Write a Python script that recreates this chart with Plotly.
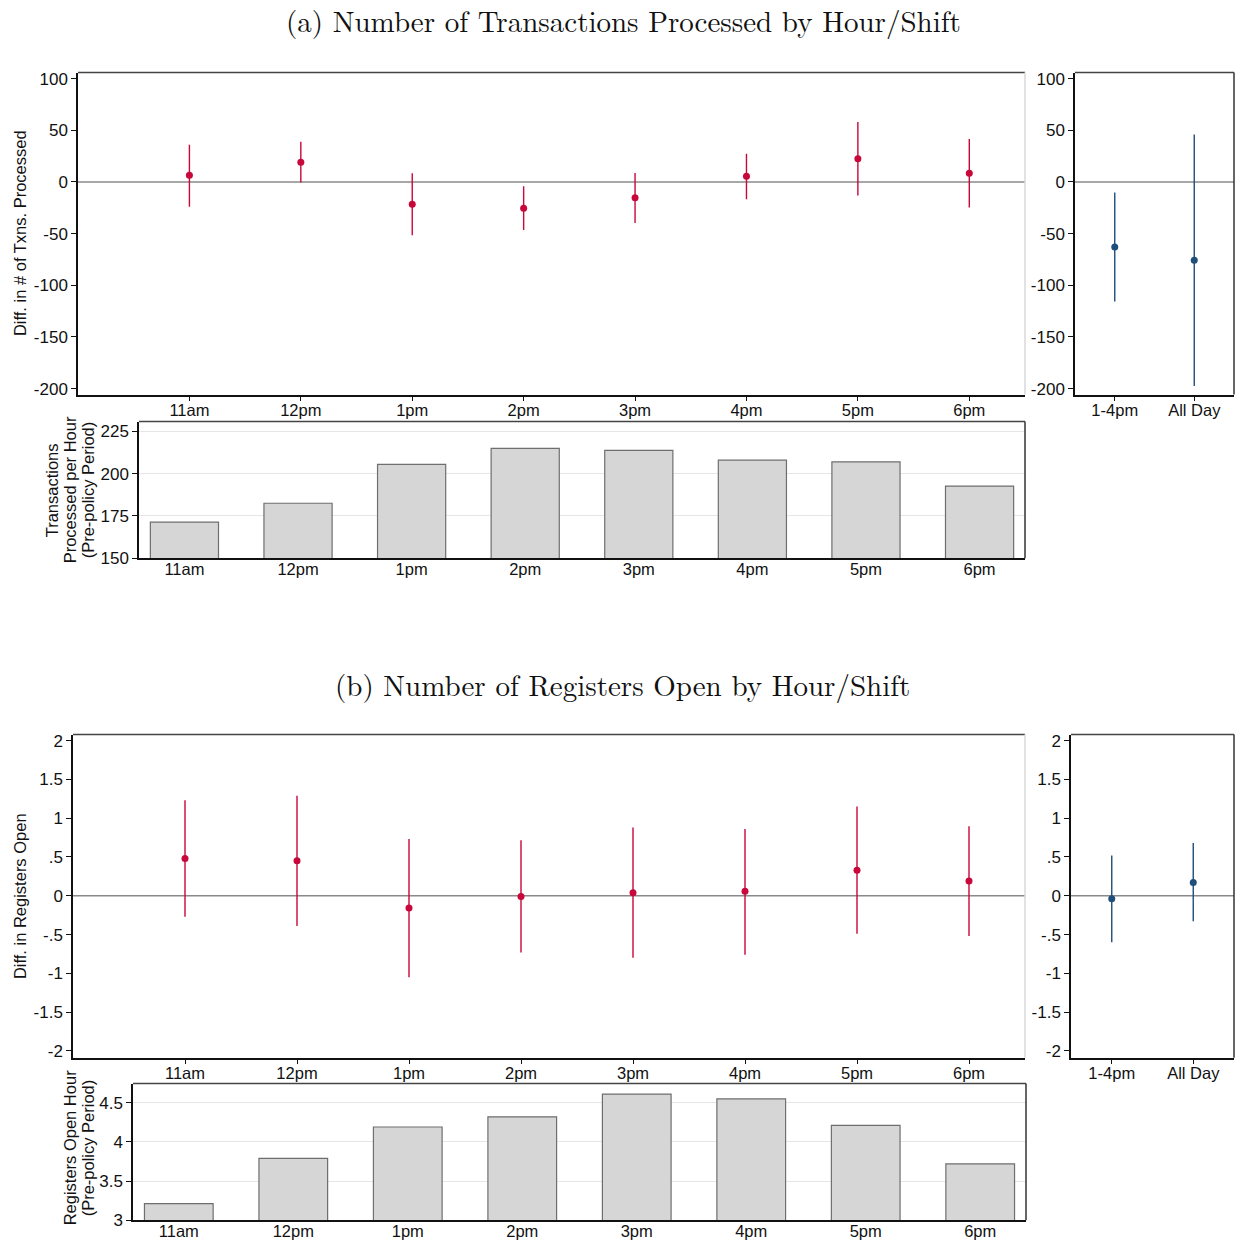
import plotly.graph_objects as go

W, H = 1236, 1241

# ---------------- data ----------------
hours = ["11am", "12pm", "1pm", "2pm", "3pm", "4pm", "5pm", "6pm"]
shifts = ["1-4pm", "All Day"]

# Panel (a): difference in # of transactions processed
txn_est = [6.5, 19, -21.5, -25.4, -15.4, 5.5, 22.5, 8.4]
txn_hi = [36, 39, 8.5, -4.2, 8.7, 27.3, 57.9, 41.5]
txn_lo = [-24, -0.5, -51.5, -46.6, -39.8, -16.7, -13.2, -24.8]
txn_shift_est = [-63, -75.9]
txn_shift_hi = [-10.3, 46]
txn_shift_lo = [-115.7, -197.4]
txn_pre = [171.3, 182.5, 205.5, 215, 213.8, 208, 207, 192.7]

# Panel (b): difference in registers open
reg_est = [0.48, 0.45, -0.158, -0.01, 0.04, 0.057, 0.33, 0.19]
reg_hi = [1.23, 1.29, 0.73, 0.716, 0.88, 0.86, 1.15, 0.896]
reg_lo = [-0.27, -0.39, -1.05, -0.73, -0.80, -0.76, -0.49, -0.52]
reg_shift_est = [-0.04, 0.17]
reg_shift_hi = [0.52, 0.68]
reg_shift_lo = [-0.60, -0.33]
reg_pre = [3.21, 3.79, 4.19, 4.32, 4.61, 4.55, 4.21, 3.72]

txn_ticks = [100, 50, 0, -50, -100, -150, -200]
txn_ticktext = ["100", "50", "0", "-50", "-100", "-150", "-200"]
reg_ticks = [2, 1.5, 1, 0.5, 0, -0.5, -1, -1.5, -2]
reg_ticktext = ["2", "1.5", "1", ".5", "0", "-.5", "-1", "-1.5", "-2"]
txn_bar_ticks = [150, 175, 200, 225]
reg_bar_ticks = [3, 3.5, 4, 4.5]
reg_bar_ticktext = ["3", "3.5", "4", "4.5"]

RED = "#c8073a"
BLUE = "#1f4e79"
FONT = "Liberation Sans, Arial, sans-serif"


def ycorr(p):
    # compensate the slight vertical compression observed in rendering
    return (p - 1.2) / 0.9925


def px_x(a, b):
    return [a / W, b / W]


def px_y(top, bottom):
    return [1 - ycorr(bottom) / H, 1 - ycorr(top) / H]


def py(p):
    return 1 - ycorr(p) / H


fig = go.Figure()


def add_ci(xvals, est, hi, lo, color, xa, ya):
    fig.add_trace(go.Scatter(
        x=xvals, y=est, mode="markers",
        marker=dict(color=color, size=7),
        error_y=dict(type="data", symmetric=False,
                     array=[h - e for h, e in zip(hi, est)],
                     arrayminus=[e - l for e, l in zip(est, lo)],
                     color=color, thickness=1.4, width=0),
        xaxis=xa, yaxis=ya, showlegend=False, cliponaxis=False))


pos = list(range(1, len(hours) + 1))
spos = list(range(1, len(shifts) + 1))

add_ci(pos, txn_est, txn_hi, txn_lo, RED, "x", "y")
add_ci(spos, txn_shift_est, txn_shift_hi, txn_shift_lo, BLUE, "x2", "y2")
fig.add_trace(go.Bar(x=hours, y=txn_pre, marker=dict(color="#d6d6d6", line=dict(color="#6e6e6e", width=1.2)),
                     xaxis="x3", yaxis="y3", showlegend=False))
add_ci(pos, reg_est, reg_hi, reg_lo, RED, "x4", "y4")
add_ci(spos, reg_shift_est, reg_shift_hi, reg_shift_lo, BLUE, "x5", "y5")
fig.add_trace(go.Bar(x=hours, y=reg_pre, marker=dict(color="#d6d6d6", line=dict(color="#6e6e6e", width=1.2)),
                     xaxis="x6", yaxis="y6", showlegend=False))

axcommon = dict(showline=True, linecolor="#111", linewidth=1.5, ticks="outside", ticklen=5,
                tickcolor="#111", tickwidth=1, tickfont=dict(family=FONT, size=17, color="#111"),
                showgrid=False, zeroline=False)
xcommon = dict(axcommon, ticklabelstandoff=-5, tickfont=dict(family=FONT, size=16.5, color="#111"))

main_a_x = px_x(78, 1025); main_a_y = px_y(71, 394)
right_a_x = px_x(1075, 1234)
bar_a_x = px_x(139, 1025); bar_a_y = px_y(421, 558)
main_b_x = px_x(73, 1025); main_b_y = px_y(735, 1059)
right_b_x = px_x(1071, 1234)
bar_b_x = px_x(133, 1026); bar_b_y = px_y(1085, 1222)

fig.update_layout(
    width=W, height=H, margin=dict(l=0, r=0, t=0, b=0),
    paper_bgcolor="white", plot_bgcolor="white", bargap=0.4,
    xaxis=dict(xcommon, domain=main_a_x, anchor="y", range=[0, 8.5], tickvals=pos, ticktext=hours),
    yaxis=dict(axcommon, domain=main_a_y, anchor="x", range=[-205.8, 105.8], tickvals=txn_ticks, ticktext=txn_ticktext),
    xaxis2=dict(xcommon, domain=right_a_x, anchor="y2", range=[0.5, 2.5], tickvals=spos, ticktext=shifts),
    yaxis2=dict(axcommon, domain=main_a_y, anchor="x2", range=[-205.8, 105.8], tickvals=txn_ticks, ticktext=txn_ticktext),
    xaxis3=dict(xcommon, domain=bar_a_x, anchor="y3", range=[-0.4, 7.4], ticks="", type="category"),
    yaxis3=dict(axcommon, domain=bar_a_y, anchor="x3", range=[150, 230.9], tickvals=txn_bar_ticks,
                showgrid=True, gridcolor="#e6e6e6", gridwidth=1),
    xaxis4=dict(xcommon, domain=main_b_x, anchor="y4", range=[0, 8.5], tickvals=pos, ticktext=hours),
    yaxis4=dict(axcommon, domain=main_b_y, anchor="x4", range=[-2.086, 2.077], tickvals=reg_ticks, ticktext=reg_ticktext),
    xaxis5=dict(xcommon, domain=right_b_x, anchor="y5", range=[0.5, 2.5], tickvals=spos, ticktext=shifts),
    yaxis5=dict(axcommon, domain=main_b_y, anchor="x5", range=[-2.086, 2.077], tickvals=reg_ticks, ticktext=reg_ticktext),
    xaxis6=dict(xcommon, domain=bar_b_x, anchor="y6", range=[-0.4, 7.4], ticks="", type="category"),
    yaxis6=dict(axcommon, domain=bar_b_y, anchor="x6", range=[3, 4.745], tickvals=reg_bar_ticks, ticktext=reg_bar_ticktext,
                showgrid=True, gridcolor="#e6e6e6", gridwidth=1),
)

shapes = []
# zero lines
for xa, ya in [("x", "y"), ("x2", "y2"), ("x4", "y4"), ("x5", "y5")]:
    shapes.append(dict(type="line", xref=f"{xa} domain", yref=ya, x0=0, x1=1, y0=0, y1=0,
                       line=dict(color="#8a8a8a", width=1.6), layer="below"))
# top / right frames
for xa, ya, rc in [("x", "y", "#d8d8d8"), ("x2", "y2", "#333"), ("x3", "y3", "#333"),
                   ("x4", "y4", "#d8d8d8"), ("x5", "y5", "#333"), ("x6", "y6", "#333")]:
    shapes.append(dict(type="line", xref=f"{xa} domain", yref=f"{ya} domain", x0=0, x1=1, y0=1, y1=1,
                       line=dict(color="#444", width=1.5)))
    shapes.append(dict(type="line", xref=f"{xa} domain", yref=f"{ya} domain", x0=1, x1=1, y0=0, y1=1,
                       line=dict(color=rc, width=1.5)))
fig.update_layout(shapes=shapes)

titlefont = dict(family="Latin Modern Roman, CMU Serif, Liberation Serif, serif", size=29, color="#111")
axtitle = dict(family=FONT, size=16.5, color="#111")


def txt(text, x, y, font, angle=0):
    return dict(text=text, x=x / W, y=py(y), textangle=angle, xref="paper", yref="paper",
                showarrow=False, font=font, xanchor="center", yanchor="middle")


ann = [
    txt("(a) Number of Transactions Processed by Hour/Shift", 623, 18, titlefont),
    txt("(b) Number of Registers Open by Hour/Shift", 622, 684, titlefont),
    txt("Diff. in # of Txns. Processed", 20, 232, axtitle, -90),
    txt("Transactions", 52, 490, axtitle, -90),
    txt("Processed per Hour", 70, 490, axtitle, -90),
    txt("(Pre-policy Period)", 88, 490, axtitle, -90),
    txt("Diff. in Registers Open", 20, 897, axtitle, -90),
    txt("Registers Open Hour", 70, 1150, axtitle, -90),
    txt("(Pre-policy Period)", 88, 1150, axtitle, -90),
]
fig.update_layout(annotations=ann)

fig.write_html("out.html")
